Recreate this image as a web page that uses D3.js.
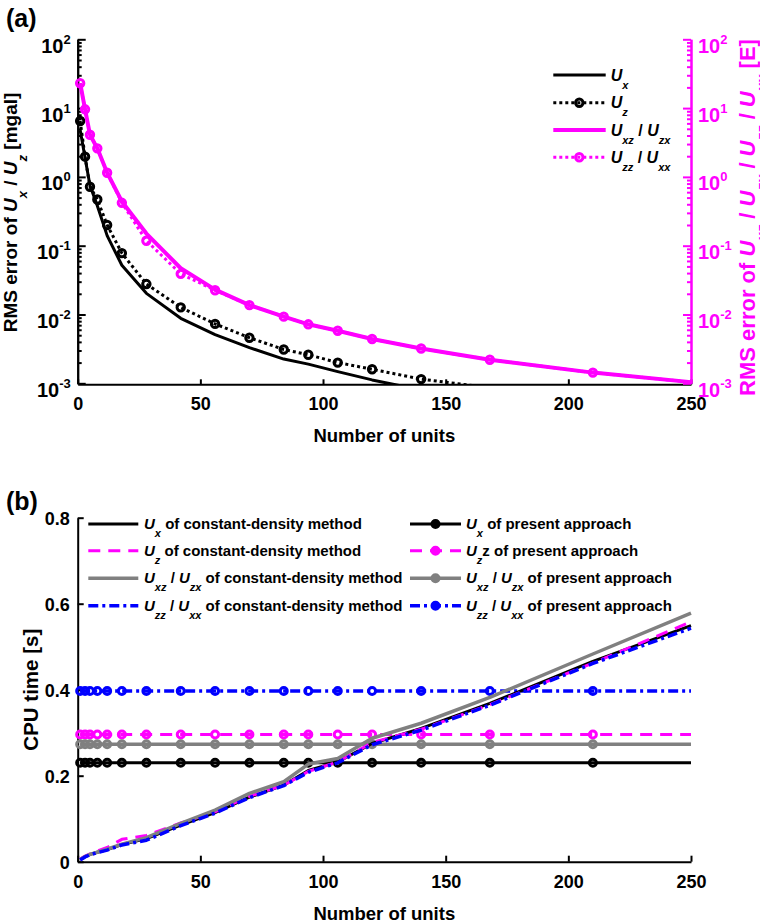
<!DOCTYPE html>
<html>
<head>
<meta charset="utf-8">
<script src="https://cdn.jsdelivr.net/npm/d3@7/dist/d3.min.js"></script>
<style>
  body { margin: 0; background: #fff; }
  svg { display: block; font-family: "Liberation Sans", Arial, sans-serif; font-weight: bold; }
  text { white-space: pre; }
</style>
</head>
<body>
<svg id="chart" width="760" height="923"></svg>
<script>
// number of units at which the errors / timings were computed
var units = [1, 3, 5, 8, 12, 18, 28, 42, 56, 70, 84, 94, 106, 120, 140, 168, 210, 250];

// (a) RMS errors (mGal for Ux, Uz ; Eotvos for the tensor components)
var rmsUx = [4.8, 1.9, 0.75, 0.38, 0.14, 0.052, 0.0203, 0.0088, 0.0051, 0.0033, 0.00225, 0.0019, 0.00148, 0.00112, 0.0008, null, null, null];
var rmsUz = [6.5, 1.97, 0.72, 0.47, 0.2, 0.078, 0.0277, 0.0127, 0.0073, 0.0046, 0.0031, 0.0026, 0.002, 0.0016, 0.00115, 0.00086, null, null];
var rmsUxz = [23, 9.6, 4.1, 2.6, 1.15, 0.44, 0.15, 0.047, 0.023, 0.0137, 0.0093, 0.0072, 0.0058, 0.0044, 0.0032, 0.0022, 0.00143, 0.00104];
var rmsUzz = [23, 9.6, 4.1, 2.6, 1.15, 0.42, 0.118, 0.039, 0.0225, 0.0137, 0.0093, 0.0072, 0.0058, 0.0044, 0.0032, 0.0022, 0.00143, 0.00104];

// (b) CPU time [s]
var cdUx = [0.005, 0.012, 0.017, 0.022, 0.028, 0.040, 0.054, 0.085, 0.114, 0.150, 0.178, 0.212, 0.232, 0.275, 0.310, 0.368, 0.466, 0.549];
var cdUz = [0.006, 0.013, 0.018, 0.025, 0.033, 0.052, 0.061, 0.090, 0.116, 0.152, 0.178, 0.210, 0.232, 0.277, 0.308, 0.365, 0.462, 0.558];
var cdUxz = [0.005, 0.012, 0.017, 0.022, 0.029, 0.041, 0.056, 0.089, 0.120, 0.159, 0.186, 0.227, 0.240, 0.287, 0.322, 0.382, 0.483, 0.578];
var cdUzz = [0.004, 0.011, 0.016, 0.021, 0.027, 0.039, 0.050, 0.084, 0.113, 0.149, 0.177, 0.208, 0.230, 0.272, 0.306, 0.364, 0.461, 0.543];
var paUx = [0.23, 0.23, 0.23, 0.23, 0.23, 0.23, 0.23, 0.23, 0.23, 0.23, 0.23, 0.23, 0.23, 0.23, 0.23, 0.23, 0.23, 0.23];
var paUz = [0.296, 0.296, 0.296, 0.296, 0.296, 0.296, 0.296, 0.296, 0.296, 0.296, 0.296, 0.296, 0.296, 0.296, 0.296, 0.296, 0.296, 0.296];
var paUxz = [0.273, 0.273, 0.273, 0.273, 0.273, 0.273, 0.273, 0.273, 0.273, 0.273, 0.273, 0.273, 0.273, 0.273, 0.273, 0.273, 0.273, 0.273];
var paUzz = [0.397, 0.397, 0.397, 0.397, 0.397, 0.397, 0.397, 0.397, 0.397, 0.397, 0.397, 0.397, 0.397, 0.397, 0.397, 0.397, 0.397, 0.397];

// ticks
var xTicks = [0, 50, 100, 150, 200, 250];
var logTicks = [1e-3, 1e-2, 1e-1, 1, 10, 100];
var logTickExp = ["-3", "-2", "-1", "0", "1", "2"];
var cpuTicks = [0, 0.2, 0.4, 0.6, 0.8];
var cpuTickLabels = ["0", "0.2", "0.4", "0.6", "0.8"];

var MAGENTA = "#ff00ff", BLUE = "#0000ff", GRAY = "#808080";

var svg = d3.select("#chart");

function pts(values) {
  return units.map(function (u, i) { return { x: u, v: values[i] }; });
}

// text with italic symbols and subscripts
function rich(text, segs, subSize, subDy) {
  var shift = 0;
  segs.forEach(function (s) {
    var t = text.append("tspan").text(s.t);
    if (s.sub) {
      t.attr("font-size", subSize).attr("font-style", "italic");
      if (shift === 0) { t.attr("dy", subDy); shift = subDy; }
    } else {
      if (s.it) t.attr("font-style", "italic");
      if (shift !== 0) { t.attr("dy", -shift); shift = 0; }
    }
  });
  return text;
}

function styleAxis(g, color, size) {
  g.attr("color", color).attr("font-family", null).attr("font-size", size);
  g.select(".domain").attr("stroke-width", 2);
  g.selectAll(".tick line").attr("stroke-width", 2);
  g.selectAll(".tick text").attr("font-weight", "bold");
}

function logLabels(g) {
  g.selectAll(".tick text").attr("dy", 13).text("10").append("tspan")
    .attr("dy", -9).attr("font-size", 13)
    .text(function (d) { return logTickExp[logTicks.indexOf(d)]; });
}

var minorLog = function (scale) {
  return scale.ticks().filter(function (v) {
    var e = Math.log10(v);
    return Math.abs(e - Math.round(e)) > 1e-6;
  });
};

/* ---------------- panel (a) ---------------- */
var x = d3.scaleLinear().domain([0, 250]).range([77.7, 691]);
var yA = d3.scaleLog().domain([1e-3, 1e2]).range([383.3, 39.3]);

svg.append("defs").append("clipPath").attr("id", "clipA")
  .append("rect").attr("x", 0).attr("y", 25).attr("width", 760).attr("height", 384.3 - 25);

var gA = svg.append("g");

gA.append("g").attr("transform", "translate(0,384.3)")
  .call(d3.axisBottom(x).tickValues(xTicks).tickSize(-5).tickSizeOuter(0).tickPadding(13))
  .call(styleAxis, "#000", 18);

gA.append("g").attr("transform", "translate(77.7,0)")
  .call(d3.axisLeft(yA).tickValues(minorLog(yA)).tickSize(-4).tickSizeOuter(0).tickFormat(""))
  .call(styleAxis, "#000", 18);
gA.append("g").attr("transform", "translate(77.7,0)")
  .call(d3.axisLeft(yA).tickValues(logTicks).tickSize(-8).tickSizeOuter(0).tickPadding(7).tickFormat(function () { return "10"; }))
  .call(styleAxis, "#000", 20)
  .call(logLabels);

gA.append("g").attr("transform", "translate(691,0)")
  .call(d3.axisRight(yA).tickValues(minorLog(yA)).tickSize(-4).tickSizeOuter(0).tickFormat(""))
  .call(styleAxis, MAGENTA, 18);
gA.append("g").attr("transform", "translate(691,0)")
  .call(d3.axisRight(yA).tickValues(logTicks).tickSize(-8).tickSizeOuter(0).tickPadding(7).tickFormat(function () { return "10"; }))
  .call(styleAxis, MAGENTA, 20)
  .call(logLabels);

var lineA = d3.line()
  .defined(function (d) { return d.v != null; })
  .x(function (d) { return x(d.x); })
  .y(function (d) { return yA(d.v); });

var seriesA = [
  { values: rmsUx, color: "#000", width: 3, dash: null, marker: false },
  { values: rmsUz, color: "#000", width: 3, dash: "3,3", marker: true },
  { values: rmsUxz, color: MAGENTA, width: 4, dash: null, marker: false },
  { values: rmsUzz, color: MAGENTA, width: 3, dash: "3,3", marker: true }
];

var plotA = gA.append("g").attr("clip-path", "url(#clipA)");
seriesA.forEach(function (s) {
  var data = pts(s.values);
  plotA.append("path").datum(data)
    .attr("fill", "none").attr("stroke", s.color).attr("stroke-width", s.width)
    .attr("stroke-dasharray", s.dash).attr("stroke-linejoin", "round")
    .attr("d", lineA);
  if (s.marker) {
    plotA.selectAll(null)
      .data(data.filter(function (d) { return d.v != null && d.v >= 1e-3 && d.x < 250; }))
      .join("circle")
      .attr("cx", function (d) { return x(d.x); })
      .attr("cy", function (d) { return yA(d.v); })
      .attr("r", 3.7).attr("fill", "none")
      .attr("stroke", s.color).attr("stroke-width", 3);
  }
});

// legend (a)
var legendA = [
  [{ t: "U", it: 1 }, { t: "x", sub: 1 }],
  [{ t: "U", it: 1 }, { t: "z", sub: 1 }],
  [{ t: "U", it: 1 }, { t: "xz", sub: 1 }, { t: " / " }, { t: "U", it: 1 }, { t: "zx", sub: 1 }],
  [{ t: "U", it: 1 }, { t: "zz", sub: 1 }, { t: " / " }, { t: "U", it: 1 }, { t: "xx", sub: 1 }]
];
var legARows = [75, 102.7, 130, 157.3];
seriesA.forEach(function (s, i) {
  var row = gA.append("g").attr("transform", "translate(0," + legARows[i] + ")");
  row.append("line").attr("x1", 553.3).attr("x2", 605.7)
    .attr("stroke", s.color).attr("stroke-width", s.width).attr("stroke-dasharray", s.dash);
  if (s.marker) {
    row.append("circle").attr("cx", 579.3).attr("r", 3.7).attr("fill", "none")
      .attr("stroke", s.color).attr("stroke-width", 3);
  }
  rich(row.append("text").attr("x", 610.7).attr("y", 5.5).attr("font-size", 16), legendA[i], 11, 8);
});

// titles (a)
svg.append("text").attr("x", 6).attr("y", 27).attr("font-size", 25).text("(a)");
svg.append("text").attr("x", 384.3).attr("y", 441.5).attr("font-size", 18.5)
  .attr("text-anchor", "middle").text("Number of units");
rich(svg.append("text").attr("transform", "translate(17,212.5) rotate(-90)")
  .attr("text-anchor", "middle").attr("font-size", 19),
  [{ t: "RMS error of " }, { t: "U", it: 1 }, { t: "x", sub: 1 }, { t: " / " }, { t: "U", it: 1 }, { t: "z", sub: 1 }, { t: " [mgal]" }], 13, 10);
rich(svg.append("text").attr("transform", "translate(755,217.5) rotate(-90)")
  .attr("text-anchor", "middle").attr("font-size", 22).attr("fill", MAGENTA),
  [{ t: "RMS error of " }, { t: "U", it: 1 }, { t: "xz", sub: 1 }, { t: " / " }, { t: "U", it: 1 }, { t: "zx", sub: 1 },
   { t: " / " }, { t: "U", it: 1 }, { t: "zz", sub: 1 }, { t: " / " }, { t: "U", it: 1 }, { t: "xx", sub: 1 }, { t: " [E]" }], 15, 12);

/* ---------------- panel (b) ---------------- */
var yB = d3.scaleLinear().domain([0, 0.8]).range([861.7, 517.7]);
var gB = svg.append("g");

gB.append("g").attr("transform", "translate(0,861.7)")
  .call(d3.axisBottom(x).tickValues(xTicks).tickSize(-6).tickSizeOuter(0).tickPadding(14))
  .call(styleAxis, "#000", 18);
gB.append("g").attr("transform", "translate(77.7,0)")
  .call(d3.axisLeft(yB).tickValues(cpuTicks).tickSize(-6).tickSizeOuter(0).tickPadding(8)
    .tickFormat(function (d) { return cpuTickLabels[cpuTicks.indexOf(d)]; }))
  .call(styleAxis, "#000", 18)
  .call(function (g) { g.selectAll(".tick text").attr("dy", "0.38em"); });

var lineB = d3.line()
  .x(function (d) { return x(d.x); })
  .y(function (d) { return yB(d.v); });

var constSeries = [
  { values: cdUx, color: "#000", width: 3, dash: null },
  { values: cdUz, color: MAGENTA, width: 3, dash: "12,8" },
  { values: cdUxz, color: GRAY, width: 3.5, dash: null },
  { values: cdUzz, color: BLUE, width: 3.5, dash: "10,4,3,4" }
];
var presentSeries = [
  { values: paUx, color: "#000", width: 3, dash: null },
  { values: paUz, color: MAGENTA, width: 3, dash: "12,8" },
  { values: paUxz, color: GRAY, width: 3.5, dash: null },
  { values: paUzz, color: BLUE, width: 3.5, dash: "10,4,3,4" }
];

presentSeries.forEach(function (s) {
  var data = pts(s.values);
  gB.append("path").datum(data)
    .attr("fill", "none").attr("stroke", s.color).attr("stroke-width", s.width)
    .attr("stroke-dasharray", s.dash).attr("d", lineB);
  gB.selectAll(null).data(data.filter(function (d) { return d.x < 250; }))
    .join("circle")
    .attr("cx", function (d) { return x(d.x); })
    .attr("cy", function (d) { return yB(d.v); })
    .attr("r", 3.5).attr("fill", "none")
    .attr("stroke", s.color).attr("stroke-width", 3);
});
constSeries.forEach(function (s) {
  gB.append("path").datum(pts(s.values))
    .attr("fill", "none").attr("stroke", s.color).attr("stroke-width", s.width)
    .attr("stroke-dasharray", s.dash).attr("stroke-linejoin", "round").attr("d", lineB);
});

// legend (b)
var legendConst = [
  [{ t: "U", it: 1 }, { t: "x", sub: 1 }, { t: " of constant-density method" }],
  [{ t: "U", it: 1 }, { t: "z", sub: 1 }, { t: " of constant-density method" }],
  [{ t: "U", it: 1 }, { t: "xz", sub: 1 }, { t: " / " }, { t: "U", it: 1 }, { t: "zx", sub: 1 }, { t: " of constant-density method" }],
  [{ t: "U", it: 1 }, { t: "zz", sub: 1 }, { t: " / " }, { t: "U", it: 1 }, { t: "xx", sub: 1 }, { t: " of constant-density method" }]
];
var legendPresent = [
  [{ t: "U", it: 1 }, { t: "x", sub: 1 }, { t: " of present approach" }],
  [{ t: "U", it: 1 }, { t: "z", sub: 1 }, { t: "z of present approach" }],
  [{ t: "U", it: 1 }, { t: "xz", sub: 1 }, { t: " / " }, { t: "U", it: 1 }, { t: "zx", sub: 1 }, { t: " of present approach" }],
  [{ t: "U", it: 1 }, { t: "zz", sub: 1 }, { t: " / " }, { t: "U", it: 1 }, { t: "xx", sub: 1 }, { t: " of present approach" }]
];
var legBRows = [524, 550.7, 578.3, 605.7];

constSeries.forEach(function (s, i) {
  var row = gB.append("g").attr("transform", "translate(0," + legBRows[i] + ")");
  row.append("line").attr("x1", 88.3).attr("x2", 138.3)
    .attr("stroke", s.color).attr("stroke-width", s.width).attr("stroke-dasharray", s.dash);
  rich(row.append("text").attr("x", 144).attr("y", 5).attr("font-size", 15), legendConst[i], 11, 8);
});
presentSeries.forEach(function (s, i) {
  var row = gB.append("g").attr("transform", "translate(0," + legBRows[i] + ")");
  row.append("line").attr("x1", 410).attr("x2", 461)
    .attr("stroke", s.color).attr("stroke-width", s.width).attr("stroke-dasharray", s.dash);
  row.append("circle").attr("cx", 435.5).attr("r", 4).attr("fill", s.color)
    .attr("stroke", s.color).attr("stroke-width", 2);
  rich(row.append("text").attr("x", 466).attr("y", 5).attr("font-size", 15), legendPresent[i], 11, 8);
});

svg.append("text").attr("x", 6).attr("y", 510).attr("font-size", 25).text("(b)");
svg.append("text").attr("x", 384.3).attr("y", 920).attr("font-size", 18.5)
  .attr("text-anchor", "middle").text("Number of units");
svg.append("text").attr("transform", "translate(38,689.7) rotate(-90)")
  .attr("text-anchor", "middle").attr("font-size", 20.5).text("CPU time [s]");
</script>
</body>
</html>
